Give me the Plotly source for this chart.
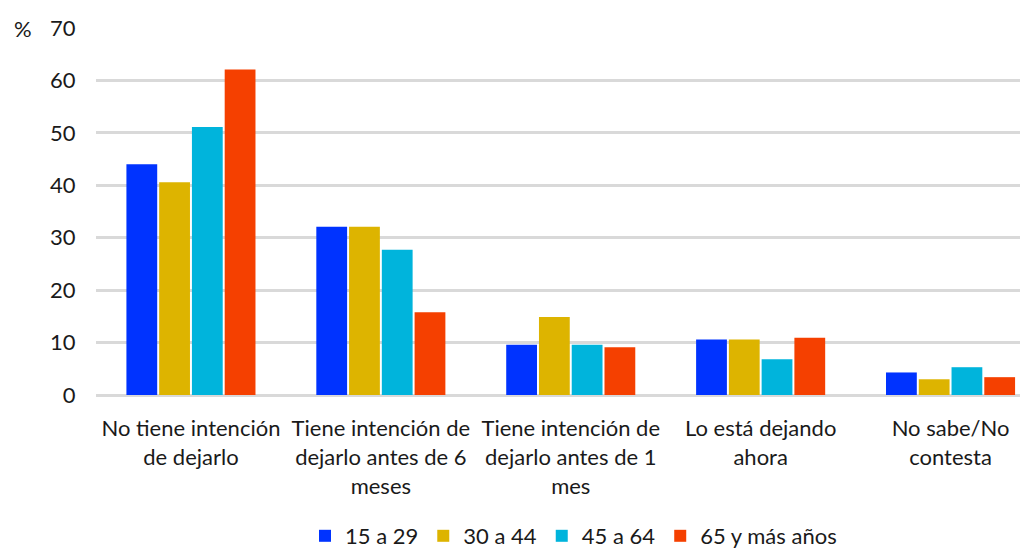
import plotly.graph_objects as go

categorias = [
    "No tiene intención<br>de dejarlo",
    "Tiene intención de<br>dejarlo antes de 6<br>meses",
    "Tiene intención de<br>dejarlo antes de 1<br>mes",
    "Lo está dejando<br>ahora",
    "No sabe/No<br>contesta",
]
edades = ["15 a 29", "30 a 44", "45 a 64", "65 y más años"]
v_15_29 = [44.0, 32.1, 9.6, 10.6, 4.3]
v_30_44 = [40.6, 32.1, 14.9, 10.6, 3.0]
v_45_64 = [51.1, 27.7, 9.6, 6.8, 5.3]
v_65 = [62.1, 15.8, 9.1, 10.9, 3.4]
series = [v_15_29, v_30_44, v_45_64, v_65]
colores = ["#0033ff", "#ddb400", "#00b4dc", "#f54000"]

fig = go.Figure()
for nombre, vals, col in zip(edades, series, colores):
    fig.add_trace(go.Bar(
        x=list(range(len(categorias))), y=vals, name=nombre,
        marker=dict(color=col, line=dict(width=0)),
    ))

# la página tiene 8px de margen en el body, se compensa en los márgenes
fig.update_layout(
    width=1028, height=549,
    paper_bgcolor="white", plot_bgcolor="white",
    font=dict(family="Lato", size=22, color="#1a1a1a"),
    margin=dict(l=88, r=0, t=20, b=158),
    barmode="group", bargap=0.31, bargroupgap=0.06,
    showlegend=True,
    legend=dict(orientation="h", x=0.508, xanchor="center", y=-0.385, yanchor="middle",
                font=dict(size=22), traceorder="normal", itemwidth=30),
    xaxis=dict(
        tickmode="array", tickvals=list(range(len(categorias))), ticktext=categorias,
        range=[-0.5, 4.45], showgrid=False, zeroline=False, showline=False,
        ticks="outside", ticklen=14, tickcolor="rgba(0,0,0,0)", tickangle=0,
    ),
    yaxis=dict(
        range=[0, 70], dtick=10, showgrid=True, gridcolor="#d9d9d9", gridwidth=2.5,
        zeroline=True, zerolinecolor="#d9d9d9", zerolinewidth=2.5,
        ticks="outside", ticklen=15, tickcolor="rgba(0,0,0,0)",
    ),
    annotations=[dict(text="%", xref="paper", yref="y", x=-0.0894, y=70,
                      showarrow=False, font=dict(size=22), xanchor="left")],
)

fig.write_html("out.html")
